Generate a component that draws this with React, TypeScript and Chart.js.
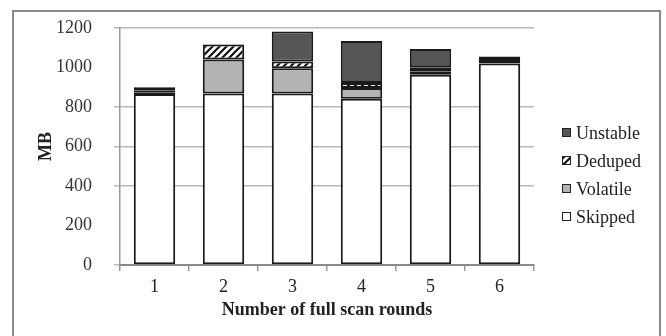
import React, { useEffect, useRef } from 'react';
import { Chart, registerables } from 'chart.js';

Chart.register(...registerables);

const categories = ['1', '2', '3', '4', '5', '6'];
const skipped = [866, 868, 868, 842, 963, 1020];
const volatile = [6, 172, 128, 54, 18, 8];
const deduped = [10, 76, 34, 26, 20, 20];
const unstable = [18, 2, 152, 212, 93, 8];
const yMin = 0;
const yMax = 1200;
const yStep = 200;

function makeHatch(): CanvasPattern | string {
  const c = document.createElement('canvas');
  c.width = 7;
  c.height = 7;
  const g = c.getContext('2d');
  if (!g) return '#888';
  g.fillStyle = '#ffffff';
  g.fillRect(0, 0, 7, 7);
  g.strokeStyle = '#111';
  g.lineWidth = 2.2;
  g.beginPath();
  g.moveTo(0, 7);
  g.lineTo(7, 0);
  g.moveTo(-3.5, 3.5);
  g.lineTo(3.5, -3.5);
  g.moveTo(3.5, 10.5);
  g.lineTo(10.5, 3.5);
  g.stroke();
  return g.createPattern(c, 'repeat') || '#888';
}

const framePlugin = {
  id: 'frame',
  beforeDraw(chart: any) {
    const ctx = chart.ctx;
    ctx.save();
    ctx.fillStyle = '#ffffff';
    ctx.fillRect(0, 0, chart.width, chart.height);
    ctx.strokeStyle = '#8a8a8a';
    ctx.lineWidth = 2;
    ctx.strokeRect(13, 11, 647, 340);
    ctx.restore();
  },
};

const legendPlugin = {
  id: 'customLegend',
  afterDraw(chart: any) {
    const ctx = chart.ctx;
    const items = [...chart.data.datasets].reverse();
    ctx.save();
    items.forEach((ds: any, i: number) => {
      const y = 133 + i * 28;
      ctx.fillStyle = ds.backgroundColor;
      ctx.fillRect(562, y - 5, 9, 9);
      ctx.strokeStyle = '#222';
      ctx.lineWidth = 1;
      ctx.strokeRect(562.5, y - 4.5, 8, 8);
      ctx.fillStyle = '#222';
      ctx.font = '18px "Liberation Serif"';
      ctx.textBaseline = 'middle';
      ctx.textAlign = 'left';
      ctx.fillText(ds.label, 576, y + 1);
    });
    ctx.restore();
  },
};

export default function App() {
  const ref = useRef<HTMLCanvasElement>(null);

  useEffect(() => {
    if (!ref.current) return;
    const hatch = makeHatch();
    const common = { borderColor: '#1a1a1a', borderWidth: 2, borderSkipped: false as const };
    const chart = new Chart(ref.current, {
      type: 'bar',
      data: {
        labels: categories,
        datasets: [
          { label: 'Skipped', data: skipped, backgroundColor: '#ffffff', ...common },
          { label: 'Volatile', data: volatile, backgroundColor: '#b3b3b3', ...common },
          { label: 'Deduped', data: deduped, backgroundColor: hatch as any, ...common },
          { label: 'Unstable', data: unstable, backgroundColor: '#565656', ...common },
        ],
      },
      options: {
        animation: false,
        responsive: false,
        maintainAspectRatio: false,
        layout: { padding: { left: 0, right: 132, top: 28, bottom: 0 } },
        datasets: { bar: { barPercentage: 0.6, categoryPercentage: 1 } },
        plugins: {
          legend: { display: false },
          tooltip: { enabled: false },
        },
        scales: {
          x: {
            stacked: true,
            afterFit: (s: any) => {
              s.height = 71;
              s.paddingLeft = 0;
              s.paddingRight = 0;
            },
            grid: {
              drawOnChartArea: false,
              offset: true,
              tickLength: 6,
              color: '#999',
              lineWidth: 1.5,
            },
            border: { display: true, color: '#8a8a8a', width: 2 },
            ticks: {
              color: '#222',
              padding: 5,
              font: { family: '"Liberation Serif"', size: 18 },
            },
            title: {
              display: true,
              text: 'Number of full scan rounds',
              color: '#222',
              font: { family: '"Liberation Serif"', size: 18, weight: 'bold' },
              padding: { top: 0, bottom: 15 },
            },
          },
          y: {
            stacked: true,
            min: yMin,
            max: yMax,
            afterFit: (s: any) => {
              s.width = 120;
              s.paddingTop = 0;
              s.paddingBottom = 0;
            },
            grid: {
              color: (c: any) =>
                c.tick && (c.tick.value === 1000 || c.tick.value === 200) ? 'rgba(0,0,0,0)' : '#b8b8b8',
              lineWidth: 1.5,
              tickLength: 6,
            },
            border: { display: true, color: '#9a9a9a', width: 1.5 },
            ticks: {
              stepSize: yStep,
              color: '#333',
              padding: 22,
              font: { family: '"Liberation Serif"', size: 18 },
              callback: (v: any) => String(v),
            },
            title: {
              display: true,
              text: 'MB',
              color: '#222',
              font: { family: '"Liberation Serif"', size: 18, weight: 'bold' },
              padding: { top: 36, bottom: 0 },
            },
          },
        },
      },
      plugins: [framePlugin, legendPlugin],
    });
    return () => chart.destroy();
  }, []);

  return (
    <div style={{ position: 'fixed', left: 0, top: 0, width: 666, height: 336, background: '#fff' }}>
      <canvas ref={ref} width={666} height={336} style={{ width: 666, height: 336, display: 'block' }} />
    </div>
  );
}
